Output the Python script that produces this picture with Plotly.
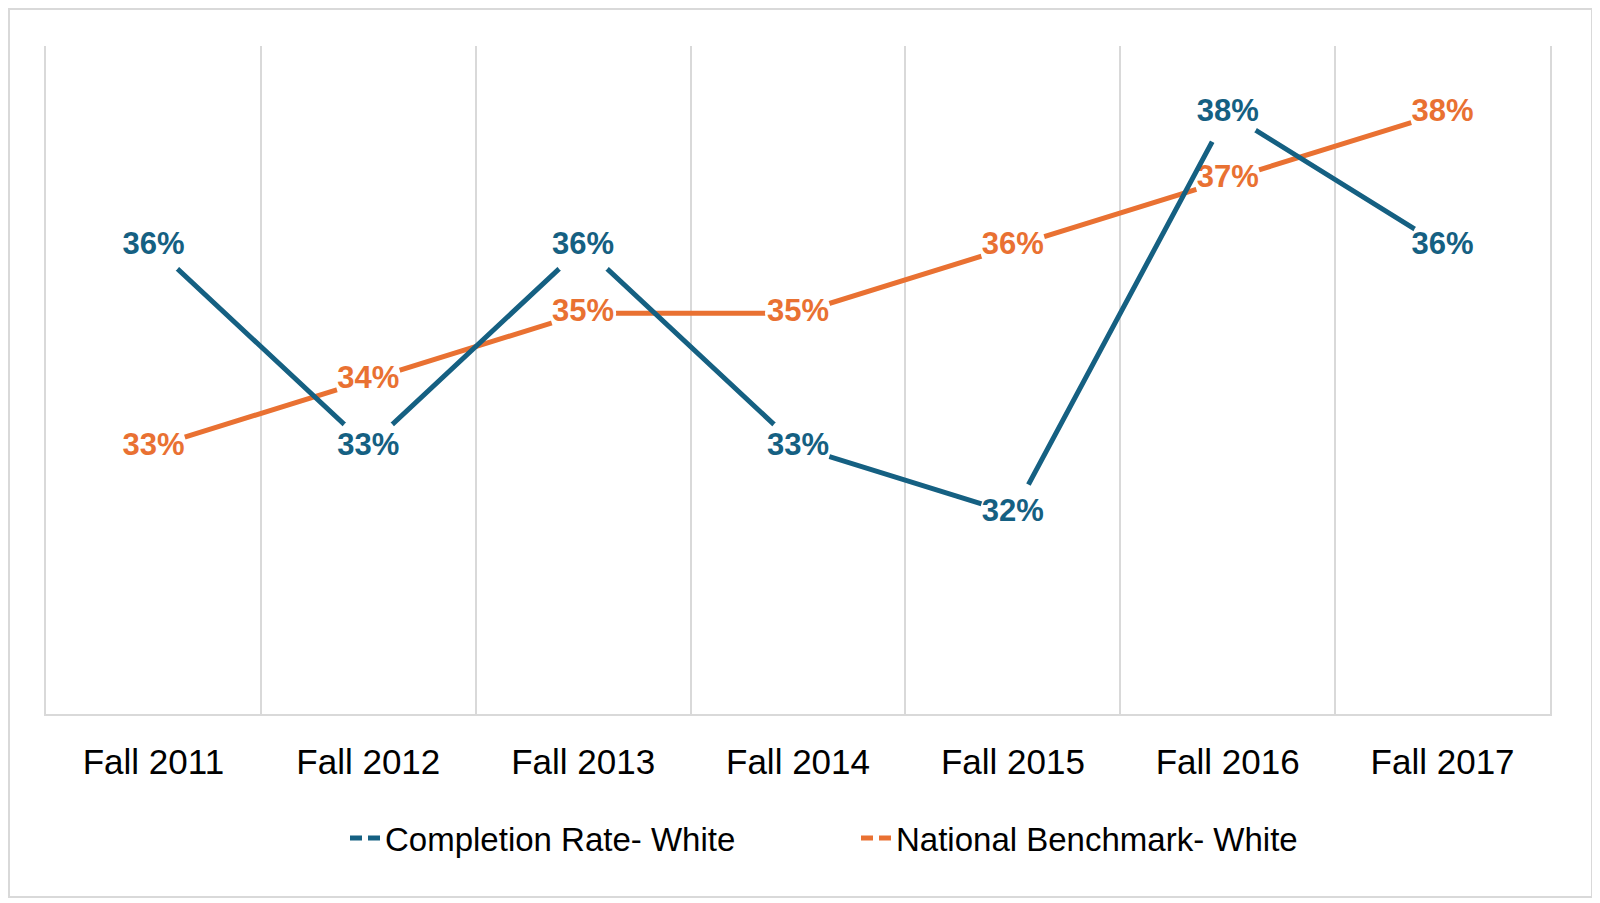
import plotly.graph_objects as go

categories = ["Fall 2011", "Fall 2012", "Fall 2013", "Fall 2014", "Fall 2015", "Fall 2016", "Fall 2017"]
completion_white = [36, 33, 36, 33, 32, 38, 36]
benchmark_white = [33, 34, 35, 35, 36, 37, 38]
series_names = ["Completion Rate- White", "National Benchmark- White"]

BLUE = "#156082"
ORANGE = "#E97132"
GRID = "#D9D9D9"
FONT = "Liberation Sans, Arial, sans-serif"

# page has an 8px body margin; layout below is expressed in figure pixels
W, H = 1600, 903
L, R, T, B = 38, 58, 38, 197
pw, ph = W - L - R, H - T - B

fig = go.Figure()

def add_series(vals, color, name):
    fig.add_trace(go.Scatter(
        x=categories, y=vals, mode="lines+markers+text",
        line=dict(color=color, width=5),
        marker=dict(symbol="circle", size=66, color="white", line=dict(width=0)),
        text=[f"{v}%" for v in vals], textposition="middle center",
        textfont=dict(family=FONT, size=31, color=color, weight="bold"),
        showlegend=False, hoverinfo="skip", name=name,
    ))

add_series(benchmark_white, ORANGE, series_names[1])
add_series(completion_white, BLUE, series_names[0])

# legend-only entries (broken line look like the reference)
for name, color in [(series_names[0], BLUE), (series_names[1], ORANGE)]:
    fig.add_trace(go.Scatter(
        x=[None], y=[None], mode="lines", name=name,
        line=dict(color=color, width=5, dash="12px,6px"),
    ))

fig.update_layout(
    width=W, height=H, autosize=False,
    margin=dict(l=L, r=R, t=T, b=B),
    paper_bgcolor="white", plot_bgcolor="white",
    font=dict(family=FONT, color="#000000"),
    showlegend=True,
    legend=dict(
        orientation="h", x=0.5 + 58 / pw, xanchor="center",
        y=(T + ph - 830) / ph, yanchor="middle",
        font=dict(family=FONT, size=33, color="#000000"),
        entrywidth=466, entrywidthmode="pixels",
    ),
    xaxis=dict(
        type="category", tickson="boundaries", range=[-0.5, len(categories) - 0.5],
        showgrid=True, gridcolor=GRID, gridwidth=1.8,
        showline=True, linecolor=GRID, linewidth=1.8,
        ticks="", tickfont=dict(family=FONT, size=35, color="#000000"),
        ticklabelstandoff=16, zeroline=False, fixedrange=True,
    ),
    yaxis=dict(
        range=[29, 39], showgrid=False, zeroline=False, showticklabels=False,
        ticks="", showline=True, mirror=True, linecolor=GRID, linewidth=1.8,
        fixedrange=True,
    ),
    shapes=[dict(
        type="rect", xref="paper", yref="paper",
        x0=(1 - L) / pw, x1=(1584 - L) / pw,
        y0=(T + ph - 889) / ph, y1=(T + ph - 1) / ph,
        line=dict(color=GRID, width=2), fillcolor="rgba(0,0,0,0)", layer="below",
    )],
)

fig.write_html("out.html")
